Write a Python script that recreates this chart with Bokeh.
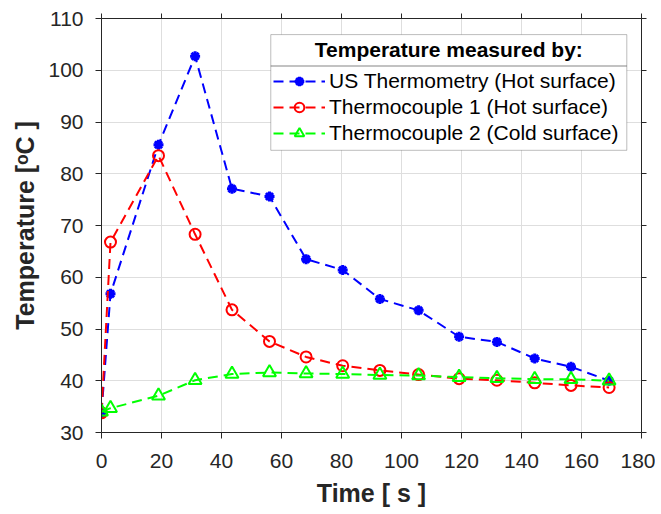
from bokeh.plotting import figure
from bokeh.models import (LinearAxis, SingleIntervalTicker, Range1d, Legend, LegendItem,
                          BoxAnnotation, Label, CustomJSTickFormatter, ColumnDataSource)
from bokeh.embed import file_html
from bokeh.resources import INLINE

# ---- data ----
time_s = [0, 3, 19, 31.2, 43.5, 56, 68.2, 80.4, 92.8, 105.7, 119.2, 131.8, 144.4, 156.5, 169.2]
us_thermometry = [33.8, 56.8, 85.6, 102.7, 77.1, 75.6, 63.5, 61.4, 55.8, 53.6, 48.5, 47.5, 44.3, 42.7, 40.0]
thermocouple_1 = [33.8, 66.8, 83.5, 68.3, 53.7, 47.6, 44.6, 42.9, 42.0, 41.2, 40.4, 40.1, 39.6, 39.1, 38.7]
thermocouple_2 = [34.0, 34.7, 37.1, 40.1, 41.3, 41.6, 41.4, 41.3, 41.1, 41.0, 40.7, 40.5, 40.3, 40.3, 40.0]

series_labels = ["US Thermometry (Hot surface)", "Thermocouple 1 (Hot surface)", "Thermocouple 2 (Cold surface)"]
legend_title = "Temperature measured by:"
x_label = "Time [ s ]"
y_label = "Temperature [\u1d52C ]"

FONT = "Liberation Sans"
AX = "#262626"

src = ColumnDataSource(dict(t=time_s, us=us_thermometry, tc1=thermocouple_1, tc2=thermocouple_2))

p = figure(width=655, height=514, output_backend="svg", toolbar_location=None,
           x_range=Range1d(0, 180), y_range=Range1d(30, 110),
           min_border_left=101, min_border_right=14, min_border_top=18, min_border_bottom=82,
           x_axis_label=x_label, y_axis_label=y_label)
p.outline_line_color = None
p.background_fill_color = "white"
p.border_fill_color = "white"

xt = SingleIntervalTicker(interval=20, num_minor_ticks=0)
yt = SingleIntervalTicker(interval=10, num_minor_ticks=0)
p.xaxis.ticker = xt
p.yaxis.ticker = yt
p.xgrid.ticker = xt
p.ygrid.ticker = yt
for g in (p.xgrid, p.ygrid):
    g.grid_line_color = "#dedede"
    g.grid_line_width = 1

def style_axis(ax):
    ax.axis_line_color = AX
    ax.axis_line_width = 1
    ax.major_tick_line_color = AX
    ax.major_tick_line_width = 1
    ax.major_tick_out = 6
    ax.major_tick_in = 0
    ax.minor_tick_out = 0
    ax.minor_tick_in = 0
    ax.major_label_text_font = FONT
    ax.major_label_text_font_size = "21px"
    ax.major_label_text_color = AX
    ax.axis_label_text_font = FONT
    ax.axis_label_text_font_size = "25px"
    ax.axis_label_text_font_style = "bold"
    ax.axis_label_text_color = AX

for ax in p.xaxis + p.yaxis:
    style_axis(ax)
p.xaxis.major_label_standoff = 15
p.xaxis.axis_label_standoff = 8
p.yaxis.major_label_standoff = 12
p.yaxis.axis_label_standoff = 6

top = LinearAxis(ticker=xt, formatter=CustomJSTickFormatter(code="return ''"))
right = LinearAxis(ticker=yt, formatter=CustomJSTickFormatter(code="return ''"))
for ax in (top, right):
    style_axis(ax)
    ax.major_tick_out = 5
    ax.major_label_standoff = 0
p.add_layout(top, "above")
p.add_layout(right, "right")

DASH = "10 6"
lb = p.line("t", "us", source=src, line_color="#0000ff", line_width=2, line_dash=DASH)
sb = p.scatter("t", "us", source=src, marker="asterisk", size=10, line_color="#0000ff", line_width=3)
lr = p.line("t", "tc1", source=src, line_color="#ff0000", line_width=2, line_dash=DASH)
sr = p.scatter("t", "tc1", source=src, marker="circle", size=11, line_color="#ff0000",
               fill_color=None, line_width=2)
lg = p.line("t", "tc2", source=src, line_color="#00ff00", line_width=2, line_dash=DASH)
sg = p.scatter("t", "tc2", source=src, marker="triangle", size=13, line_color="#00ff00",
               fill_color=None, line_width=2)

# legend frame (MATLAB style, with title and separator)
box = BoxAnnotation(left=56.43, right=175.1, top=106.89, bottom=84.53,
                    fill_color="white", fill_alpha=1, line_color=AX, line_width=1, level="annotation")
sep = BoxAnnotation(left=56.43, right=175.1, top=100.82, bottom=100.82,
                    fill_alpha=0, line_color=AX, line_width=1, level="annotation")
title = Label(x=115.77, y=104.0, text=legend_title, text_align="center", text_baseline="middle",
              text_font=FONT, text_font_size="21px", text_font_style="bold", text_color="black")
p.add_layout(box)
p.add_layout(sep)
p.add_layout(title)

legend = Legend(items=[LegendItem(label=series_labels[0], renderers=[lb, sb]),
                       LegendItem(label=series_labels[1], renderers=[lr, sr]),
                       LegendItem(label=series_labels[2], renderers=[lg, sg])],
                location=(172, 287), padding=0, margin=0, spacing=2,
                glyph_width=52, glyph_height=24, label_height=24, label_standoff=4,
                label_text_font=FONT, label_text_font_size="21px", label_text_color="black",
                border_line_color=None, background_fill_alpha=0)
p.add_layout(legend)

open("out.html", "w").write(file_html(p, INLINE))
